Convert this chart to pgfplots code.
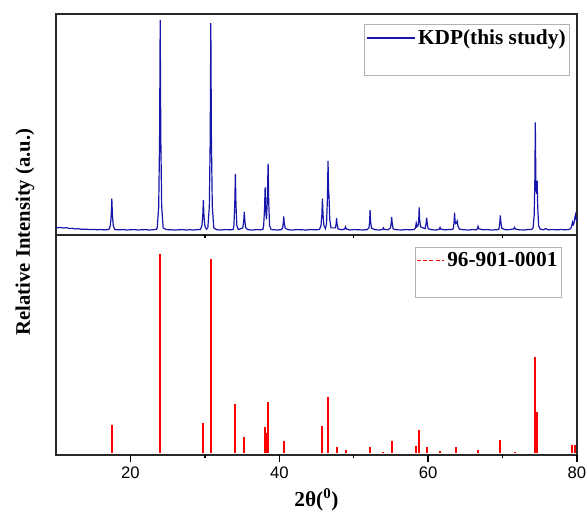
\documentclass[border=0pt]{standalone}
\usepackage{fontspec}
\setmainfont{Liberation Serif}
\newfontfamily\arial{Liberation Sans}
\usepackage{pgfplots}
\pgfplotsset{compat=1.18}

\definecolor{kdpblue}{RGB}{22,22,170}
\definecolor{refred}{RGB}{255,0,0}
\definecolor{framegray}{RGB}{40,40,40}

\pgfplotsset{
  xrdpanel/.style={
    scale only axis,
    width=390.75pt,
    xmin=10, xmax=80,
    ytick=\empty,
    xtick={20,40,60,80},
    major tick length=0pt,
    axis line style={line width=1.1pt, framegray},
    /pgf/number format/assume math mode=true,
    ticklabel style={font=\arial\fontsize{12.5}{13}\selectfont, yshift=-5pt},
    legend cell align=left,
    legend style={draw=gray!60, line width=0.6pt, fill=white,
      font=\bfseries\fontsize{16}{18}\selectfont,
      inner xsep=1pt, inner ysep=2pt},
  }
}

\begin{document}
\begin{tikzpicture}
\useasboundingbox (-42pt,-45pt) rectangle (398.25pt,341.25pt);

% reference pattern (stick diagram)
\begin{axis}[xrdpanel, name=bot, at={(0pt,0pt)}, anchor=south west,
    height=165pt, ymin=-0.008, ymax=1.095,
    xlabel={\textbf{2θ(\textsuperscript{0})}},
    xlabel style={font=\fontsize{16}{18}\selectfont, at={(axis description cs:0.5,0)}, anchor=center, yshift=-33.75pt},
    legend image code/.code={\draw[#1] (0pt,0pt) -- (20pt,0pt);},
    legend style={at={(0.971,0.947)}, anchor=north east}]
\addplot[ycomb, refred, line width=1.5pt, mark=none, forget plot] coordinates {
(17.5,0.144) (24.0,1.0) (29.8,0.153) (30.8,0.975) (34.1,0.247)
(35.3,0.081) (38.05,0.131) (38.2,0.10) (38.5,0.26) (40.6,0.064)
(45.75,0.139) (46.5,0.284) (47.7,0.034) (48.9,0.019) (52.2,0.034)
(54.0,0.009) (55.1,0.06) (58.4,0.039) (58.8,0.118) (59.8,0.03)
(61.6,0.012) (63.7,0.03) (66.7,0.018) (69.7,0.067) (71.7,0.008)
(74.4,0.483) (74.65,0.21) (79.3,0.044) (79.7,0.044)
};
\addlegendimage{refred, line width=1.2pt, dash pattern=on 3pt off 1.6pt}
\addlegendentry{96-901-0001}
\addlegendimage{empty legend}
\addlegendentry{\rule{0pt}{12pt}}
\end{axis}

% measured pattern
\begin{axis}[xrdpanel, at={(bot.north west)}, anchor=south west,
    height=165.75pt, ymin=-0.0136, ymax=1.028,
    xticklabels={},
    legend image code/.code={\draw[#1] (0pt,0pt) -- (36pt,0pt);},
    legend style={at={(0.9866,0.955)}, anchor=north east}]
\addplot[kdpblue, line width=0.9pt, mark=none] coordinates {
(10.0,0.024) (10.3,0.020) (10.6,0.022) (11.0,0.019) (11.4,0.021) (11.8,0.017)
(12.2,0.018) (12.6,0.015) (13.0,0.016) (13.5,0.013) (14.0,0.014) (14.5,0.012)
(15.0,0.013) (15.5,0.011) (16.0,0.012) (16.5,0.011) (17.1,0.012)
(17.3,0.030) (17.42,0.08) (17.5,0.158) (17.58,0.08) (17.7,0.030) (17.9,0.012)
(18.5,0.011) (19.0,0.012) (19.5,0.010) (20.0,0.011) (20.5,0.012) (21.0,0.010)
(21.5,0.011) (22.0,0.012) (22.5,0.010) (23.0,0.011) (23.5,0.013)
(23.6,0.02) (23.8,0.12) (23.92,0.45) (24.0,1.0) (24.08,0.45) (24.2,0.12) (24.4,0.02)
(24.8,0.012) (25.5,0.011) (26.0,0.010) (26.5,0.011) (27.0,0.012) (27.5,0.010)
(28.0,0.011) (28.5,0.010) (29.0,0.012) (29.4,0.012)
(29.6,0.03) (29.72,0.075) (29.8,0.152) (29.88,0.075) (30.0,0.03) (30.2,0.014)
(30.4,0.02) (30.6,0.12) (30.72,0.44) (30.8,0.985) (30.88,0.44) (31.0,0.12) (31.2,0.02)
(31.6,0.011) (32.2,0.010) (32.8,0.012) (33.4,0.011) (33.8,0.012)
(33.9,0.03) (34.02,0.13) (34.1,0.275) (34.18,0.13) (34.3,0.03) (34.5,0.012)
(35.1,0.02) (35.22,0.05) (35.3,0.096) (35.38,0.05) (35.5,0.02)
(35.8,0.011) (36.4,0.010) (37.0,0.012) (37.5,0.011) (37.8,0.013)
(37.9,0.03) (38.02,0.11) (38.1,0.211) (38.18,0.10) (38.28,0.06) (38.38,0.14)
(38.5,0.323) (38.58,0.14) (38.7,0.03) (38.9,0.012)
(39.3,0.011) (39.8,0.010) (40.3,0.012)
(40.45,0.02) (40.54,0.045) (40.6,0.074) (40.66,0.045) (40.8,0.018)
(41.2,0.011) (41.8,0.010) (42.4,0.012) (43.0,0.011) (43.6,0.010) (44.2,0.012)
(44.8,0.011) (45.4,0.012)
(45.6,0.03) (45.72,0.08) (45.8,0.158) (45.88,0.08) (46.0,0.03) (46.2,0.016)
(46.35,0.04) (46.47,0.16) (46.55,0.336) (46.62,0.2) (46.68,0.17) (46.78,0.06) (46.95,0.02)
(47.55,0.02) (47.64,0.04) (47.7,0.066) (47.76,0.04) (47.9,0.015)
(48.4,0.011) (48.8,0.015) (48.9,0.025) (49.0,0.015)
(49.5,0.010) (50.1,0.012) (50.7,0.011) (51.3,0.010) (51.8,0.012)
(52.05,0.02) (52.14,0.05) (52.2,0.104) (52.26,0.05) (52.4,0.018)
(52.9,0.011) (53.5,0.010) (53.9,0.013) (54.0,0.02) (54.1,0.013) (54.6,0.011)
(54.95,0.02) (55.04,0.045) (55.1,0.072) (55.16,0.045) (55.3,0.015)
(55.8,0.011) (56.4,0.010) (57.0,0.012) (57.6,0.011) (58.1,0.012)
(58.3,0.02) (58.4,0.042) (58.5,0.025) (58.65,0.03) (58.74,0.06) (58.8,0.117)
(58.86,0.06) (58.98,0.025)
(59.6,0.016) (59.72,0.04) (59.8,0.068) (59.88,0.04) (60.0,0.016)
(60.5,0.011) (61.1,0.010) (61.5,0.014) (61.6,0.022) (61.7,0.014)
(62.2,0.011) (62.8,0.012) (63.3,0.013)
(63.4,0.02) (63.49,0.05) (63.55,0.092) (63.62,0.05) (63.72,0.04) (63.82,0.045)
(63.9,0.052) (64.0,0.03) (64.2,0.014)
(64.8,0.011) (65.4,0.010) (66.0,0.012) (66.5,0.011)
(66.62,0.016) (66.7,0.027) (66.8,0.016)
(67.3,0.011) (67.9,0.012) (68.5,0.010) (69.1,0.011) (69.5,0.013)
(69.56,0.025) (69.64,0.05) (69.7,0.079) (69.76,0.05) (69.9,0.018)
(70.4,0.011) (71.0,0.012) (71.5,0.015) (71.6,0.022) (71.7,0.015)
(72.2,0.011) (72.8,0.010) (73.4,0.012) (73.9,0.012)
(74.1,0.02) (74.25,0.08) (74.34,0.25) (74.4,0.517) (74.47,0.25) (74.55,0.18)
(74.65,0.242) (74.72,0.12) (74.85,0.03) (75.05,0.014)
(75.5,0.011) (75.8,0.017) (76.1,0.011) (76.7,0.012) (77.3,0.011) (77.9,0.012)
(78.5,0.011) (79.0,0.013)
(79.2,0.02) (79.32,0.035) (79.4,0.047) (79.5,0.035) (79.62,0.045) (79.72,0.07)
(79.8,0.082) (79.9,0.06) (80.0,0.05)
};
\addlegendentry{KDP(this study)}
\addlegendimage{empty legend}
\addlegendentry{\rule{0pt}{12pt}}
\end{axis}

% tick marks below each panel (2 theta = 20, 30, ..., 80 along the 390.75pt frame)
\foreach \xx/\len in {55.821/5, 111.643/2.5, 167.464/5, 223.286/2.5, 279.107/5, 334.929/2.5, 390.75/5}
  {\draw[line width=1.1pt, black] (\xx pt,0pt) -- (\xx pt,-\len pt);}
\foreach \xx in {111.643, 223.286, 334.929}
  {\draw[line width=1.1pt, black] (\xx pt,165pt) -- (\xx pt,162.5pt);}

\node[rotate=90, font=\bfseries\fontsize{15.5}{17}\selectfont] at (-23.25pt,167.25pt) {Relative Intensity (a.u.)};
\end{tikzpicture}
\end{document}
